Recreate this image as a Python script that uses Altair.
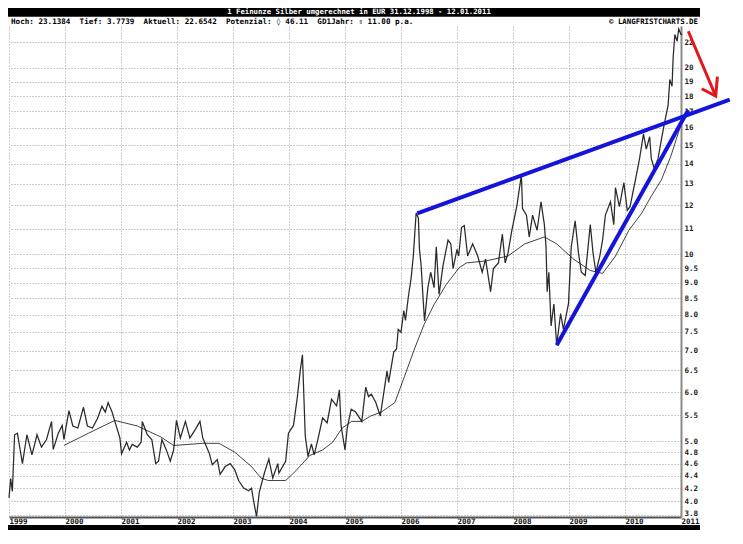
import altair as alt
import pandas as pd

# ---------------- data ----------------
price_t = [
    1999.00, 1999.03, 1999.06, 1999.10, 1999.15, 1999.24, 1999.32, 1999.41, 1999.50, 1999.58, 1999.67, 1999.76, 1999.79, 1999.88, 1999.95, 1999.98,
    2000.07, 2000.14, 2000.23, 2000.33, 2000.40, 2000.49, 2000.58, 2000.66, 2000.72, 2000.77, 2000.84, 2000.89, 2000.98,
    2001.01, 2001.10, 2001.15, 2001.20, 2001.29, 2001.36, 2001.38, 2001.47, 2001.55, 2001.62, 2001.67, 2001.73, 2001.81, 2001.88, 2001.94, 2001.99,
    2002.06, 2002.15, 2002.23, 2002.32, 2002.41, 2002.46, 2002.51, 2002.58, 2002.63, 2002.72, 2002.77, 2002.86, 2002.95,
    2003.03, 2003.10, 2003.19, 2003.28, 2003.33, 2003.38, 2003.42, 2003.47, 2003.56, 2003.64, 2003.71, 2003.80, 2003.82, 2003.94, 2003.99,
    2004.08, 2004.15, 2004.20, 2004.24, 2004.29, 2004.34, 2004.40, 2004.45, 2004.52, 2004.60, 2004.68, 2004.76, 2004.85, 2004.90, 2004.93, 2005.00,
    2005.04, 2005.11, 2005.19, 2005.30, 2005.37, 2005.42, 2005.47, 2005.55, 2005.63, 2005.70, 2005.75, 2005.78, 2005.87, 2005.92, 2005.95,
    2006.00, 2006.05, 2006.08, 2006.13, 2006.18, 2006.22, 2006.27, 2006.31, 2006.33, 2006.36, 2006.39, 2006.42, 2006.48, 2006.53, 2006.59, 2006.63, 2006.68, 2006.75, 2006.84, 2006.89, 2006.93,
    2007.00, 2007.03, 2007.08, 2007.13, 2007.19, 2007.28, 2007.37, 2007.45, 2007.51, 2007.60, 2007.65, 2007.74, 2007.81, 2007.86, 2007.91, 2007.98,
    2008.07, 2008.15, 2008.17, 2008.24, 2008.29, 2008.35, 2008.43, 2008.50, 2008.56, 2008.59, 2008.61, 2008.64, 2008.68, 2008.73, 2008.78, 2008.85, 2008.90, 2008.99,
    2009.04, 2009.11, 2009.17, 2009.22, 2009.29, 2009.38, 2009.43, 2009.48, 2009.55, 2009.60, 2009.65, 2009.74, 2009.80, 2009.83, 2009.90, 2009.98,
    2010.04, 2010.09, 2010.18, 2010.26, 2010.33, 2010.38, 2010.44, 2010.47, 2010.52, 2010.59, 2010.65, 2010.70, 2010.77, 2010.80, 2010.84, 2010.86, 2010.89, 2010.93, 2010.96, 2011.00, 2011.02,
]
price_v = [
    4.05, 4.35, 4.15, 5.12, 5.15, 4.60, 5.12, 4.75, 5.12, 4.89, 5.03, 5.38, 4.85, 5.15, 5.30, 5.03,
    5.60, 5.29, 5.25, 5.67, 5.29, 5.25, 5.44, 5.69, 5.57, 5.77, 5.57, 5.38, 5.06,
    4.77, 4.98, 4.84, 4.94, 4.89, 4.98, 5.38, 5.12, 5.03, 4.60, 4.64, 5.03, 4.84, 4.64, 4.84, 5.40,
    5.06, 5.38, 5.06, 5.21, 5.38, 5.06, 4.94, 4.77, 4.58, 4.67, 4.42, 4.55, 4.60,
    4.50, 4.32, 4.20, 4.16, 4.20, 3.95, 3.78, 4.14, 4.44, 4.68, 4.36, 4.60, 4.44, 4.64, 5.15,
    5.30, 5.90, 6.49, 6.89, 5.10, 4.72, 4.95, 4.75, 5.05, 5.45, 5.35, 5.84, 5.70, 6.05, 5.29, 4.84,
    5.25, 5.63, 5.57, 5.38, 6.11, 5.90, 5.95, 5.77, 5.49, 6.05, 6.49, 6.22, 6.96, 7.04, 7.57,
    7.49, 8.12, 7.83, 8.53, 9.15, 9.94, 11.66, 11.45, 10.19, 9.59, 8.62, 7.81, 8.84, 9.36, 8.84, 10.29, 8.62, 9.59, 10.55, 10.40, 9.49,
    10.19, 9.94, 11.05, 11.13, 9.94, 10.40, 9.94, 9.36, 9.83, 8.71, 9.49, 9.69, 10.78, 9.69, 10.04, 10.94,
    11.99, 13.43, 11.86, 11.57, 10.67, 11.57, 10.94, 12.16, 11.17, 10.29, 8.71, 9.36, 7.67, 8.32, 7.14, 8.03, 7.57, 8.32,
    10.29, 11.33, 10.04, 9.36, 9.25, 11.17, 10.04, 9.36, 9.94, 10.55, 11.57, 12.16, 11.17, 12.82, 11.94, 13.05,
    11.78, 11.94, 13.10, 14.27, 15.64, 14.78, 15.48, 14.27, 13.77, 14.27, 15.32, 16.20, 17.40, 19.14, 18.67, 20.78, 22.62, 22.07, 23.10, 22.62, 22.65,
]

# 1-year moving average (GD1Jahr)
ma_t = [1999.98, 2000.42, 2000.89, 2001.29, 2001.71, 2001.94, 2002.46, 2002.75, 2003.03, 2003.33,
        2003.50, 2003.63, 2003.94, 2004.08, 2004.24, 2004.37, 2004.60, 2004.78, 2004.95, 2005.12,
        2005.30, 2005.46, 2005.65, 2005.89, 2006.06, 2006.24, 2006.41, 2006.59, 2006.81, 2007.04,
        2007.17, 2007.51, 2007.91, 2008.21, 2008.56, 2008.78, 2009.08, 2009.38, 2009.60, 2009.83,
        2010.07, 2010.30, 2010.47, 2010.65, 2010.82, 2011.00]
ma_v = [4.92, 5.15, 5.40, 5.29, 5.08, 4.92, 4.96, 4.96, 4.80, 4.55,
        4.36, 4.32, 4.32, 4.44, 4.60, 4.74, 4.84, 4.98, 5.25, 5.38,
        5.38, 5.49, 5.57, 5.77, 6.35, 7.04, 7.70, 8.30, 8.95, 9.52,
        9.69, 9.76, 9.94, 10.40, 10.67, 10.40, 9.83, 9.42, 9.32, 9.94,
        10.94, 11.66, 12.42, 13.19, 14.41, 16.20]

# hand-drawn trend lines and arrow (in data units)
upper_t = [2006.29, 2011.87]
upper_v = [11.65, 17.77]
lower_t = [2008.78, 2011.13]
lower_v = [7.14, 17.09]
shaft_t = [2011.13, 2011.62]
shaft_v = [22.9, 18.0]
head_t = [2011.37, 2011.62, 2011.65]
head_v = [18.5, 18.0, 19.35]

year_ticks = list(range(1999, 2012))
price_ticks = [3.8, 4.0, 4.2, 4.4, 4.6, 4.8, 5.0, 5.5, 6.0, 6.5, 7.0, 7.5, 8.0, 8.5, 9.0, 9.5,
               10, 11, 12, 13, 14, 15, 16, 17, 18, 19, 20, 22]

title_text = "1 Feinunze Silber umgerechnet in EUR 31.12.1998 - 12.01.2011"
info_text = "Hoch: 23.1384\u00a0 Tief: 3.7739\u00a0 Aktuell: 22.6542\u00a0 Potenzial: \u25ca 46.11\u00a0 GD1Jahr: \u21e7 11.00 p.a."
copy_text = "\u00a9 LANGFRISTCHARTS.DE"

# ---------------- tables ----------------
price_df = pd.DataFrame({"t": price_t, "v": price_v})
ma_df = pd.DataFrame({"t": ma_t, "v": ma_v})
trend_df = pd.DataFrame({
    "t": upper_t + lower_t,
    "v": upper_v + lower_v,
    "g": ["upper"] * len(upper_t) + ["lower"] * len(lower_t),
})
arrow_df = pd.DataFrame({
    "t": shaft_t + head_t,
    "v": shaft_v + head_v,
    "g": ["shaft"] * len(shaft_t) + ["head"] * len(head_t),
})
one = pd.DataFrame({"k": [0]})

W, H = 672, 491
FONT = "DejaVu Sans Mono"

xs = alt.Scale(domain=[1999, 2011], nice=False, zero=False)
ys = alt.Scale(type="log", domain=[3.773, 23.35], nice=False, zero=False)

x_axis = alt.Axis(values=year_ticks, format="d", labelAlign="left", labelBaseline="top",
                  labelPadding=0, labelFont=FONT, labelFontSize=7.5, labelFontWeight="bold",
                  labelColor="#111111", ticks=False, grid=True, gridColor="#9a9a9a",
                  gridDash=[1, 2], gridWidth=1, domainColor="#555555", domainWidth=2,
                  title=None, labelOverlap=False, labelFlush=False)
y_axis = alt.Axis(orient="right", values=price_ticks,
                  labelExpr="datum.value >= 10 ? format(datum.value, 'd') : format(datum.value, '.1f')",
                  labelAlign="left",
                  labelBaseline={"condition": {"test": "datum.value < 3.9", "value": "alphabetic"},
                                 "value": "middle"},
                  labelPadding=3,
                  labelFont=FONT, labelFontSize=7.5, labelFontWeight="bold", labelColor="#222222",
                  ticks=False, grid=True, gridColor="#9a9a9a", gridDash=[1, 2], gridWidth=1,
                  domainColor="#8a8a8a", domainWidth=2, title=None, labelOverlap=False,
                  labelFlush=False)

X = alt.X("t:Q", scale=xs, axis=x_axis)
Y = alt.Y("v:Q", scale=ys, axis=y_axis)

top_bar = alt.Chart(one).mark_rect(color="black").encode(
    x=alt.value(-1), x2=alt.value(691), y=alt.value(-18), y2=alt.value(-9.3))
bottom_bar = alt.Chart(one).mark_rect(color="black").encode(
    x=alt.value(-1), x2=alt.value(691), y=alt.value(499), y2=alt.value(504))
title = alt.Chart(one).mark_text(text=title_text, color="white", font=FONT, fontSize=7.3,
                                 fontWeight="bold", align="center", baseline="middle").encode(
    x=alt.value(350), y=alt.value(-13.6))
info = alt.Chart(one).mark_text(text=info_text, color="black", font=FONT, fontSize=7.6,
                                fontWeight="bold", align="left", baseline="middle").encode(
    x=alt.value(2), y=alt.value(-4.3))
copy = alt.Chart(one).mark_text(text=copy_text, color="black", font=FONT, fontSize=7.4,
                                fontWeight="bold", align="right", baseline="middle").encode(
    x=alt.value(689), y=alt.value(-4.3))

price = alt.Chart(price_df).mark_line(color="#2a2a2a", strokeWidth=1.25).encode(x=X, y=Y)
ma = alt.Chart(ma_df).mark_line(color="#111111", strokeWidth=0.8).encode(x=X, y=Y)
blue = alt.Chart(trend_df).mark_line(color="#1414dc", strokeWidth=4).encode(x=X, y=Y, detail="g:N")
red = alt.Chart(arrow_df).mark_line(color="#e3161b", strokeWidth=3).encode(x=X, y=Y, detail="g:N")

chart = alt.layer(top_bar, bottom_bar, title, info, copy, price, ma, blue, red).properties(
    width=W, height=H,
    autosize=alt.AutoSizeParams(type="none"),
    padding={"left": 1, "top": 18, "right": 51, "bottom": 13},
    background="white",
).configure_view(stroke=None)

chart.save("out.html", embed_options={"renderer": "svg", "actions": False})
